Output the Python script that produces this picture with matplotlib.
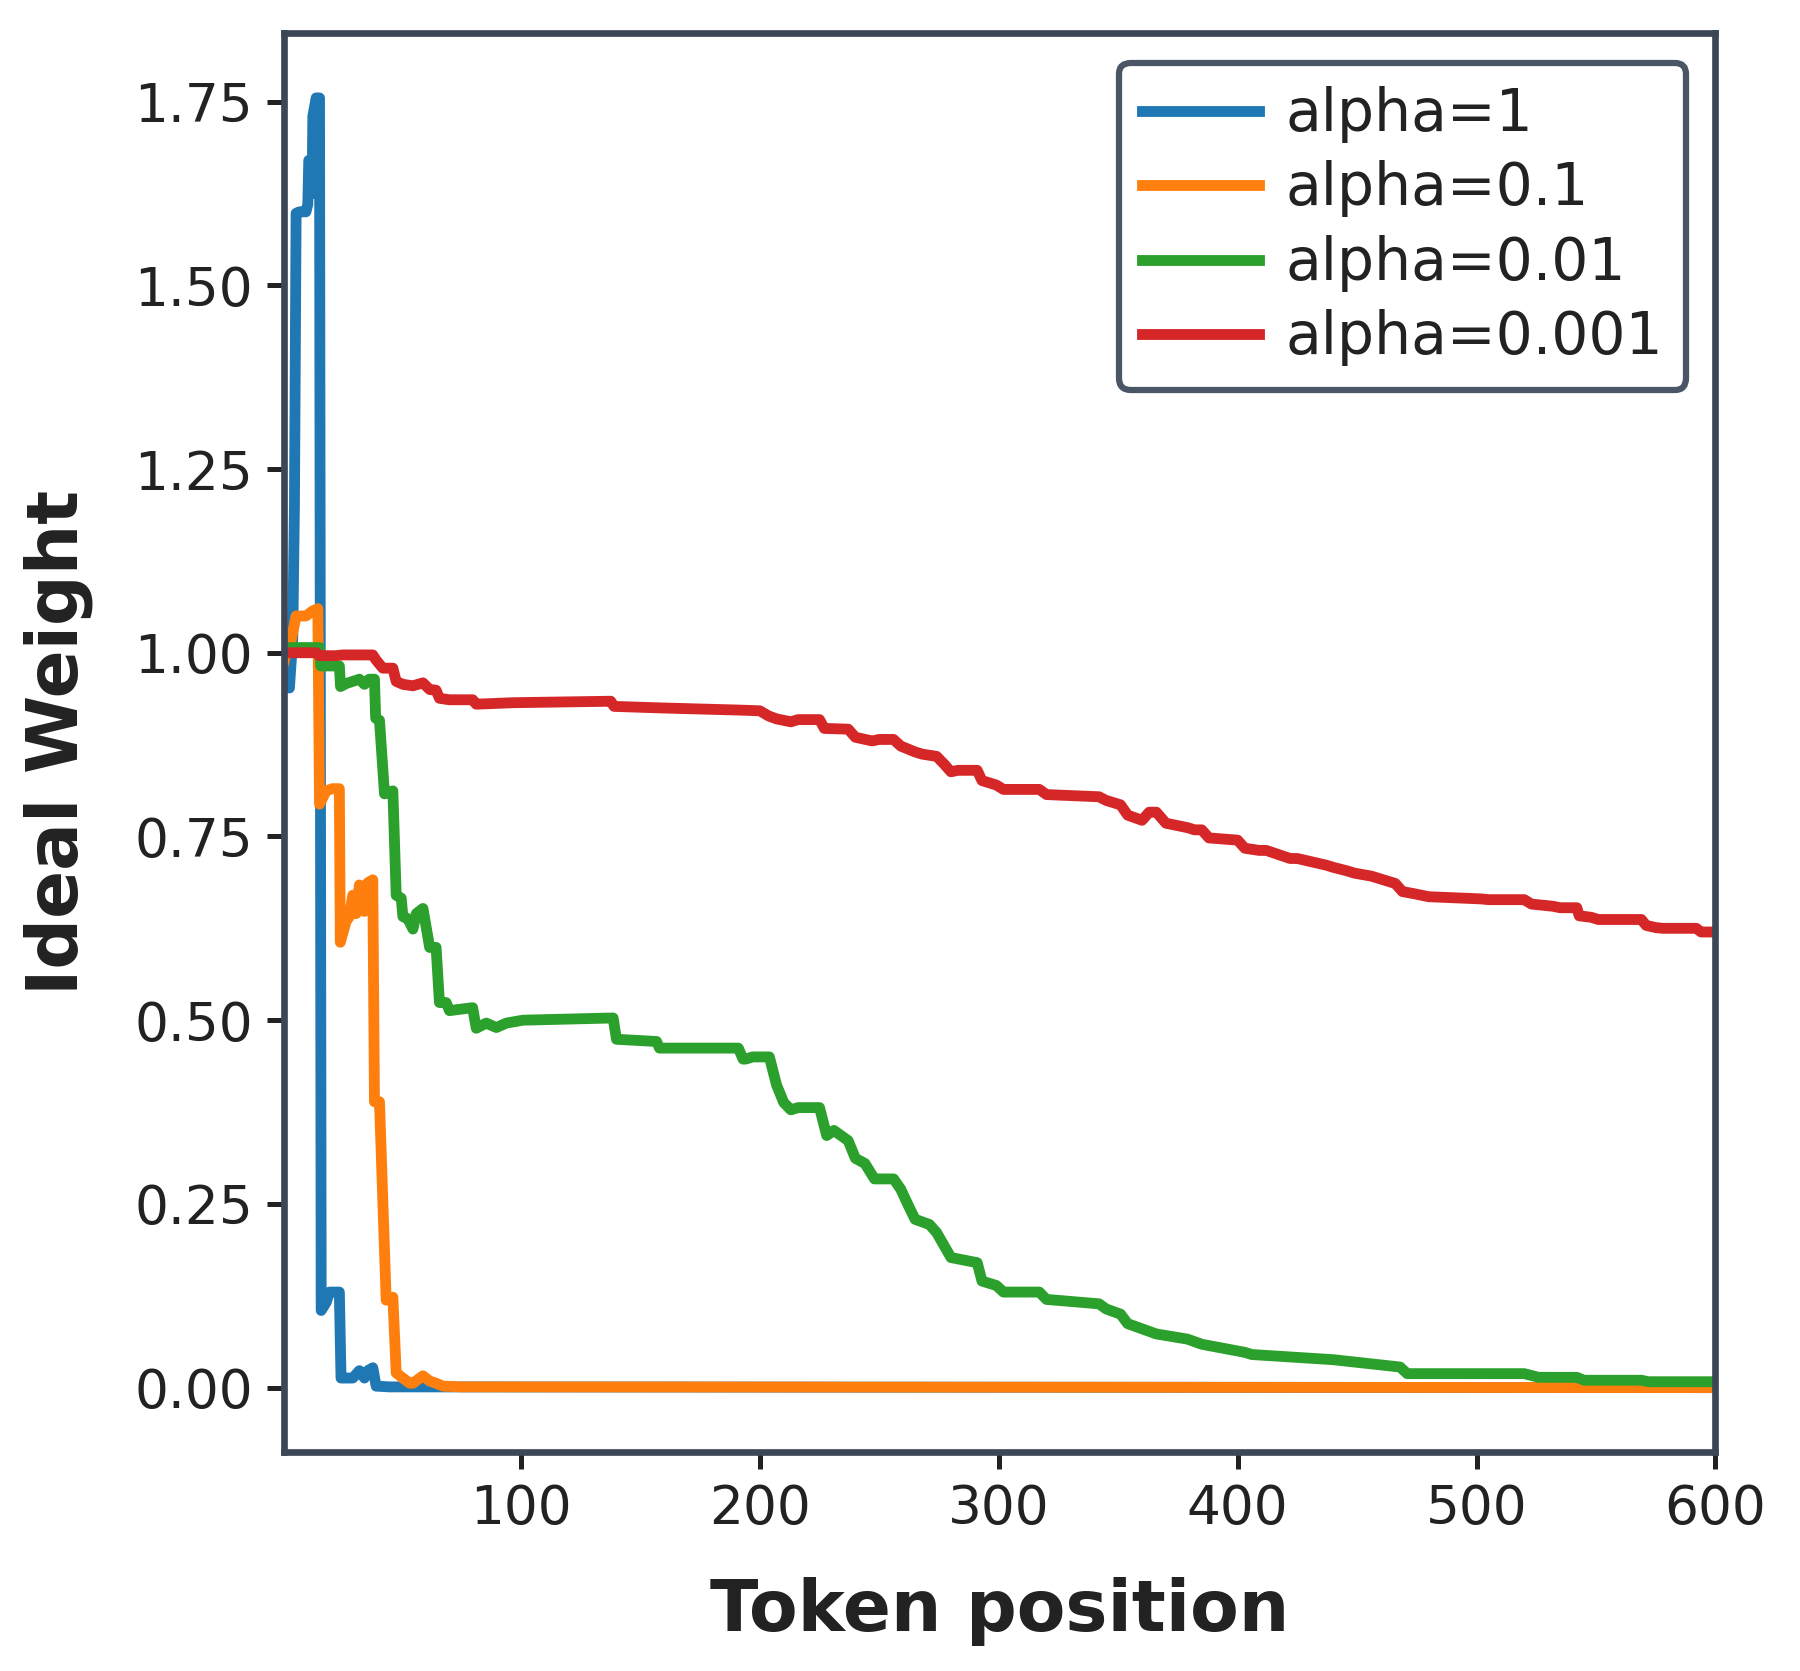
import matplotlib
matplotlib.use("Agg")
import matplotlib.pyplot as plt

# ---- data ----
x_a1 = [1, 2, 3.1, 4.5, 5.2, 5.9, 7.3, 10, 10.8, 11.2, 12.2, 12.6, 12.9, 14.3, 15.7,
        16.4, 18.5, 19.9, 24, 24.7, 26.8, 29.6, 32.4, 34.5, 35.9, 38, 39.4, 45, 600]
y_a1 = [0.98, 0.955, 0.952, 1.02, 1.20, 1.598, 1.60, 1.60, 1.61, 1.67, 1.67, 1.625, 1.73, 1.755, 1.755,
        0.105, 0.116, 0.13, 0.13, 0.013, 0.013, 0.013, 0.023, 0.013, 0.023, 0.027, 0.002, 0.001, 0.0]

x_a01 = [1, 1.7, 3.1, 5.9, 10, 12.9, 15, 15.7, 18.5, 21, 24, 24.4, 26.8, 28.2, 29.6, 31, 32.4,
         34.5, 35.9, 38, 38.7, 40.8, 43.6, 46.4, 47.8, 50.6, 53.4, 54.8, 59, 61.8, 64.5, 67.3, 75, 600]
y_a01 = [0.99, 1.0, 1.006, 1.05, 1.05, 1.057, 1.06, 0.794, 0.812, 0.815, 0.815, 0.606, 0.634, 0.641,
         0.67, 0.645, 0.684, 0.648, 0.687, 0.691, 0.389, 0.389, 0.119, 0.123, 0.02, 0.013, 0.006,
         0.006, 0.016, 0.009, 0.006, 0.002, 0.001, 0.0]

x_a001 = [1, 2.4, 3.1, 15.7, 16.2, 18.5, 24, 24.5, 26.8, 29.6, 32.4, 34.5, 36.5, 38.7, 39.2, 40.8,
          42.9, 46.4, 47.8, 49.9, 50.6, 52.7, 54.8, 56.2, 59, 61.8, 64.5, 65.9, 68.7, 70.1, 79.8,
          81.3, 85.5, 89.7, 93.9, 100.9, 138.6, 140, 156.8, 158, 191, 193, 194, 197, 204, 207,
          210, 213, 216, 225, 228, 231, 237, 240, 244, 248, 256, 259, 262, 265, 271, 274, 277,
          280, 291, 293, 299, 302, 317, 320, 342, 345, 351, 354, 360, 366, 379, 385, 403, 406,
          440, 468, 471, 520, 526, 542, 545, 569, 572, 600]
y_a001 = [1.0, 1.0, 1.007, 1.007, 0.982, 0.982, 0.982, 0.954, 0.958, 0.961, 0.964, 0.957, 0.964,
          0.964, 0.911, 0.908, 0.808, 0.812, 0.67, 0.666, 0.641, 0.638, 0.624, 0.645, 0.652, 0.599,
          0.599, 0.524, 0.524, 0.513, 0.517, 0.489, 0.496, 0.49, 0.496, 0.50, 0.503, 0.474, 0.471,
          0.462, 0.462, 0.447, 0.447, 0.45, 0.45, 0.412, 0.388, 0.378, 0.381, 0.381, 0.343, 0.35,
          0.336, 0.312, 0.305, 0.284, 0.284, 0.27, 0.249, 0.229, 0.222, 0.211, 0.194, 0.177, 0.17,
          0.145, 0.139, 0.13, 0.13, 0.12, 0.114, 0.107, 0.10, 0.087, 0.08, 0.073, 0.066, 0.059,
          0.048, 0.045, 0.038, 0.028, 0.019, 0.019, 0.014, 0.014, 0.010, 0.010, 0.008, 0.008]

x_a0001 = [1, 14.3, 15.7, 22.6, 25.4, 38, 39.4, 42.2, 46.4, 47.8, 50.6, 54.8, 59, 61.8, 64.5,
           65.9, 70.1, 79.8, 81.3, 96.7, 137.6, 139, 157.6, 191, 200, 203.7, 207, 213, 216, 225,
           227, 237, 240, 247, 250, 256, 259, 265, 268, 274, 277, 280, 283, 291, 293, 299, 302,
           317, 320, 342, 345, 351, 354, 360, 363, 366, 370, 379, 382, 385, 388, 400, 403, 409,
           412, 422, 425, 437, 440, 446, 449, 456, 459, 466, 469, 474, 480, 502, 505, 520, 523,
           532, 535, 542, 543, 548, 551, 569, 571, 575, 578, 592, 594, 600]
y_a0001 = [1.0, 1.0, 0.996, 0.996, 0.997, 0.997, 0.99, 0.979, 0.979, 0.961, 0.957, 0.955, 0.959,
           0.95, 0.949, 0.938, 0.936, 0.936, 0.93, 0.932, 0.934, 0.927, 0.925, 0.922, 0.921, 0.914,
           0.91, 0.906, 0.909, 0.909, 0.897, 0.896, 0.885, 0.88, 0.882, 0.882, 0.873, 0.865, 0.862,
           0.859, 0.849, 0.838, 0.84, 0.84, 0.826, 0.82, 0.814, 0.814, 0.807, 0.804, 0.799, 0.793,
           0.779, 0.772, 0.783, 0.783, 0.768, 0.762, 0.759, 0.759, 0.748, 0.745, 0.734, 0.731,
           0.731, 0.72, 0.72, 0.711, 0.708, 0.703, 0.70, 0.696, 0.693, 0.686, 0.675, 0.672, 0.668,
           0.665, 0.664, 0.664, 0.658, 0.655, 0.653, 0.653, 0.642, 0.64, 0.637, 0.637, 0.629,
           0.626, 0.625, 0.625, 0.62, 0.62]

labels = ["alpha=1", "alpha=0.1", "alpha=0.01", "alpha=0.001"]
colors = ["#1f77b4", "#ff7f0e", "#2ca02c", "#d62728"]
xticks = [100, 200, 300, 400, 500, 600]
yticks = [0.0, 0.25, 0.5, 0.75, 1.0, 1.25, 1.5, 1.75]

spine_col = "#3b4756"
text_col = "#222222"

fig = plt.figure(figsize=(6, 5.57), dpi=300)
ax = fig.add_axes([0.158, 0.131, 0.795, 0.849])

series = [(x_a1, y_a1), (x_a01, y_a01), (x_a001, y_a001), (x_a0001, y_a0001)]
for (xs, ys), lab, c in zip(series, labels, colors):
    ax.plot(xs, ys, color=c, lw=2.6, label=lab, solid_joinstyle="round")

ax.set_xlim(1, 600)
ax.margins(y=0.05)
ax.set_xticks(xticks)
ax.set_yticks(yticks)
ax.set_yticklabels([f"{v:.2f}" for v in yticks])

for s in ax.spines.values():
    s.set_color(spine_col)
    s.set_linewidth(1.6)
ax.tick_params(axis="both", which="major", labelsize=12.8, colors=text_col,
               length=4, width=1.2, direction="out")
for t in ax.get_xticklabels() + ax.get_yticklabels():
    t.set_color(text_col)

ax.set_xlabel("Token position", fontsize=17, fontweight="bold", color=text_col, labelpad=10)
ax.set_ylabel("Ideal Weight", fontsize=17, fontweight="bold", color=text_col, labelpad=10)

leg = ax.legend(loc="upper right", fontsize=14, frameon=True, fancybox=True,
                framealpha=1.0, handlelength=2.0, handletextpad=0.45, labelspacing=0.3)
leg.get_frame().set_edgecolor("#4a5666")
leg.get_frame().set_linewidth(1.5)
for t in leg.get_texts():
    t.set_color(text_col)

fig.savefig("out.png", dpi=300)
